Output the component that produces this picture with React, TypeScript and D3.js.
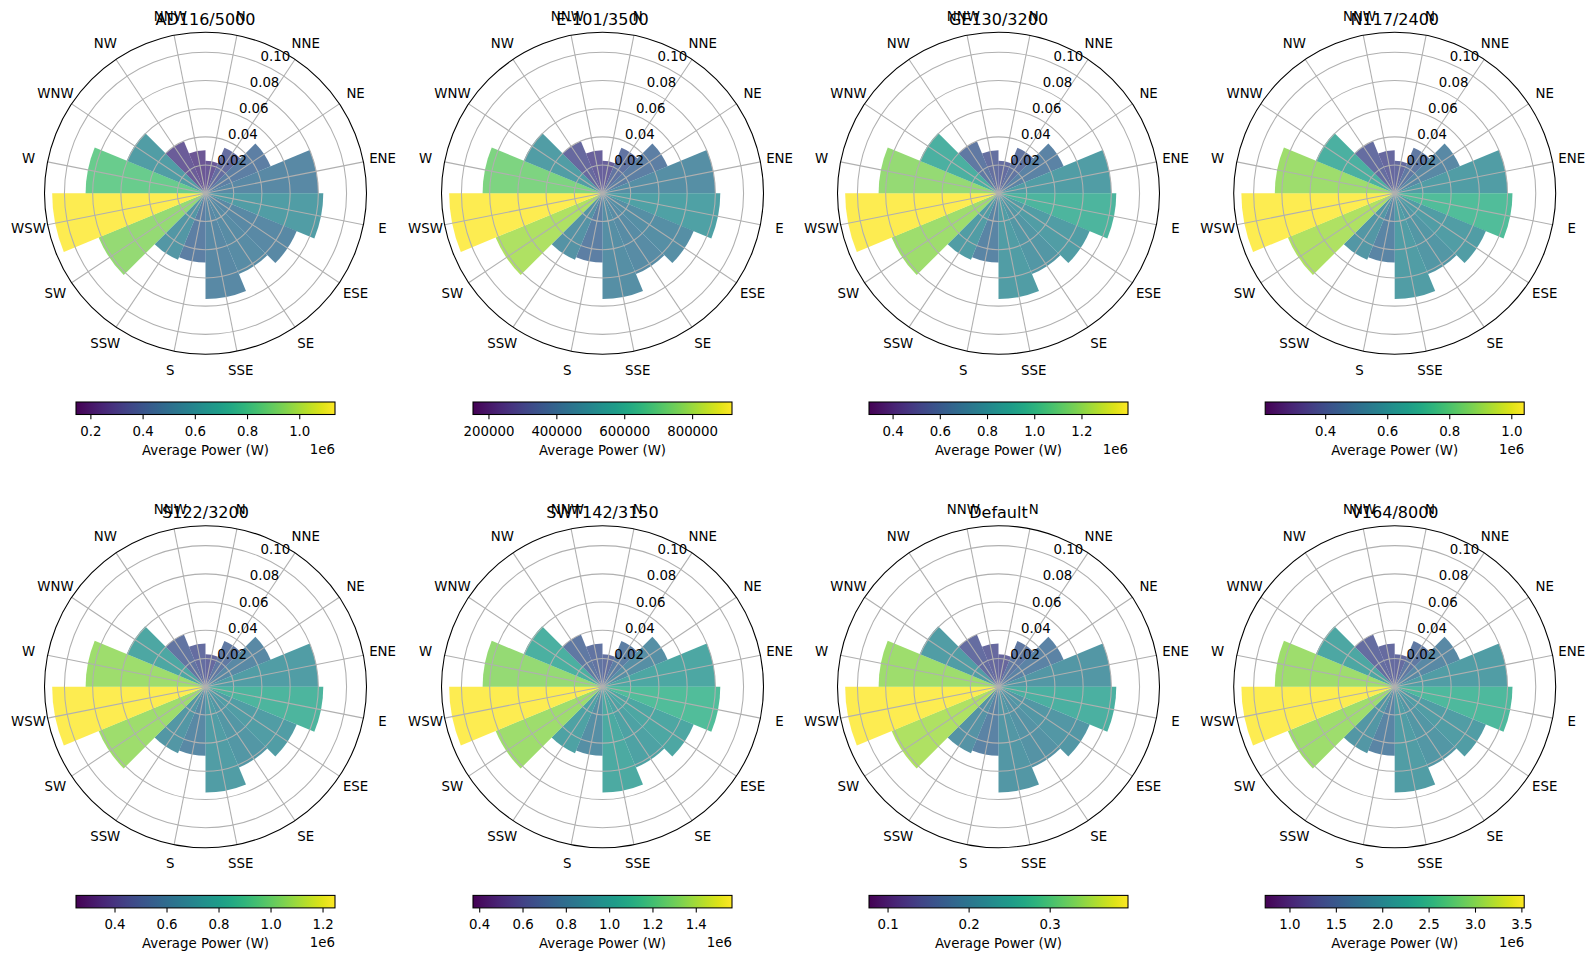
import React from 'react';
import * as d3 from 'd3';

// 16 compass sectors, shared wind rose frequencies
const DIRS = ['N', 'NNE', 'NE', 'ENE', 'E', 'ESE', 'SE', 'SSE', 'S', 'SSW', 'SW', 'WSW', 'W', 'WNW', 'NW', 'NNW'];
const FREQ = [0.023, 0.035, 0.050, 0.080, 0.0835, 0.070, 0.062, 0.075, 0.049, 0.051, 0.082, 0.1087, 0.085, 0.0605, 0.040, 0.0306];

const TURBINES = ['AD116/5000', 'E-101/3500', 'GE130/3200', 'N117/2400', 'S122/3200', 'SWT142/3150', 'Default', 'V164/8000'];

// average power per sector (W)
const POWER_AD116 = [159000, 250000, 341000, 397000, 511000, 397000, 409000, 397000, 341000, 477000, 908000, 1135000, 795000, 511000, 170000, 143000];
const POWER_E101 = [156000, 229000, 275000, 348000, 431000, 348000, 330000, 348000, 275000, 366000, 779000, 916000, 687000, 412000, 183000, 153000];
const POWER_GE130 = [298000, 349000, 446000, 628000, 809000, 628000, 586000, 628000, 460000, 628000, 1144000, 1395000, 1116000, 767000, 377000, 321000];
const POWER_N117 = [218000, 281000, 364000, 468000, 645000, 468000, 437000, 468000, 343000, 437000, 884000, 1040000, 853000, 572000, 229000, 205000];
const POWER_S122 = [250000, 336000, 436000, 561000, 723000, 561000, 523000, 561000, 436000, 523000, 1022000, 1246000, 1022000, 623000, 312000, 274000];
const POWER_SWT142 = [369000, 470000, 595000, 783000, 970000, 783000, 751000, 814000, 595000, 751000, 1283000, 1565000, 1252000, 861000, 423000, 391000];
const POWER_DEFAULT = [0.0765, 0.1069, 0.1267, 0.1663, 0.2178, 0.1663, 0.1584, 0.1663, 0.1267, 0.1584, 0.3366, 0.396, 0.3247, 0.1782, 0.0871, 0.0792];
const POWER_V164 = [733000, 952000, 1234000, 1586000, 2115000, 1586000, 1481000, 1586000, 1163000, 1481000, 2891000, 3525000, 2891000, 1763000, 776000, 740000];

const POWERS = [POWER_AD116, POWER_E101, POWER_GE130, POWER_N117, POWER_S122, POWER_SWT142, POWER_DEFAULT, POWER_V164];

// colorbar ticks
const CB_TICKS = [
  [0.2e6, 0.4e6, 0.6e6, 0.8e6, 1.0e6],
  [200000, 400000, 600000, 800000],
  [0.4e6, 0.6e6, 0.8e6, 1.0e6, 1.2e6],
  [0.4e6, 0.6e6, 0.8e6, 1.0e6],
  [0.4e6, 0.6e6, 0.8e6, 1.0e6, 1.2e6],
  [0.4e6, 0.6e6, 0.8e6, 1.0e6, 1.2e6, 1.4e6],
  [0.1, 0.2, 0.3],
  [1.0e6, 1.5e6, 2.0e6, 2.5e6, 3.0e6, 3.5e6],
];
const CB_LABELS = [
  ['0.2', '0.4', '0.6', '0.8', '1.0'],
  ['200000', '400000', '600000', '800000'],
  ['0.4', '0.6', '0.8', '1.0', '1.2'],
  ['0.4', '0.6', '0.8', '1.0'],
  ['0.4', '0.6', '0.8', '1.0', '1.2'],
  ['0.4', '0.6', '0.8', '1.0', '1.2', '1.4'],
  ['0.1', '0.2', '0.3'],
  ['1.0', '1.5', '2.0', '2.5', '3.0', '3.5'],
];
const CB_OFFSET = ['1e6', '', '1e6', '1e6', '1e6', '1e6', '', '1e6'];
const R_TICKS = [0.02, 0.04, 0.06, 0.08, 0.10];

const FONT = 'DejaVu Sans, sans-serif';
const COL_X = [205.5, 602.5, 998.5, 1394.7];
const ROW_Y = [193.3, 686.7];
const R = 161;
const CB_W = 259;
const CB_H = 12.5;

function Panel({ idx }: { idx: number }) {
  const cx = COL_X[idx % 4];
  const cy = ROW_Y[Math.floor(idx / 4)];
  const power = POWERS[idx];
  const rMax = (d3.max(FREQ) as number) * 1.05;
  const r = d3.scaleLinear().domain([0, rMax]).range([0, R]);
  const ext = d3.extent(power) as [number, number];
  // bars are coloured by power relative to the sector maximum
  const barColor = d3.scaleSequential(d3.interpolateViridis).domain([0, ext[1]]);
  const step = (2 * Math.PI) / DIRS.length;
  const arc = d3.arc<number>()
    .innerRadius(0)
    .outerRadius((d) => r(d))
    .startAngle((_, i) => i * step)
    .endAngle((_, i) => (i + 1) * step);

  const cbX0 = cx - CB_W / 2;
  const cbY0 = cy + 208.7;
  const cb = d3.scaleLinear().domain(ext).range([cbX0, cbX0 + CB_W]);
  const gid = `vir${idx}`;
  const stops = d3.range(0, 1.0001, 0.05);

  const labelR = R + 19.5;
  const rlabAng = (22.5 * Math.PI) / 180;

  return (
    <g>
      <g transform={`translate(${cx},${cy})`}>
        {FREQ.map((f, i) => (
          <path key={i} d={(arc as any)(f, i)} fill={barColor(power[i])} fillOpacity={0.8} />
        ))}
        {R_TICKS.map((t) => (
          <circle key={t} r={r(t)} fill="none" stroke="#b0b0b0" strokeWidth={1.07} />
        ))}
        {DIRS.map((_, i) => {
          const a = (i + 0.5) * step;
          return (
            <line key={i} x1={0} y1={0} x2={R * Math.sin(a)} y2={-R * Math.cos(a)} stroke="#b0b0b0" strokeWidth={1.07} />
          );
        })}
        <circle r={R} fill="none" stroke="#000" strokeWidth={1.07} />
        {R_TICKS.map((t) => (
          <text key={t} x={r(t) * Math.sin(rlabAng) + 1} y={-r(t) * Math.cos(rlabAng) - 2}
            fontSize={13.33} fontFamily={FONT} textAnchor="start">{t.toFixed(2)}</text>
        ))}
        {DIRS.map((d, i) => {
          const a = (i + 0.5) * step;
          return (
            <text key={d} x={labelR * Math.sin(a)} y={-labelR * Math.cos(a)} fontSize={13.33} fontFamily={FONT}
              textAnchor="middle" dominantBaseline="central">{d}</text>
          );
        })}
        <text x={0} y={-168.8} fontSize={16} fontFamily={FONT} textAnchor="middle">{TURBINES[idx]}</text>
      </g>
      <defs>
        <linearGradient id={gid} x1="0" x2="1" y1="0" y2="0">
          {stops.map((s) => (
            <stop key={s} offset={`${s * 100}%`} stopColor={d3.interpolateViridis(s)} />
          ))}
        </linearGradient>
      </defs>
      <rect x={cbX0} y={cbY0} width={CB_W} height={CB_H} fill={`url(#${gid})`} stroke="#000" strokeWidth={1.07} />
      {CB_TICKS[idx].map((t, j) => (
        <g key={t}>
          <line x1={cb(t)} x2={cb(t)} y1={cbY0 + CB_H} y2={cbY0 + CB_H + 4.7} stroke="#000" strokeWidth={1.07} />
          <text x={cb(t)} y={cbY0 + CB_H + 21.5} fontSize={13.33} fontFamily={FONT} textAnchor="middle">{CB_LABELS[idx][j]}</text>
        </g>
      ))}
      <text x={cx} y={cbY0 + CB_H + 40} fontSize={13.33} fontFamily={FONT} textAnchor="middle">Average Power (W)</text>
      {CB_OFFSET[idx] && (
        <text x={cbX0 + CB_W} y={cbY0 + CB_H + 39} fontSize={13.33} fontFamily={FONT} textAnchor="end">{CB_OFFSET[idx]}</text>
      )}
    </g>
  );
}

export default function App() {
  return (
    <svg width={1595} height={960} style={{ position: 'absolute', left: 0, top: 0, background: '#fff' }}>
      <rect width={1595} height={960} fill="#fff" />
      {TURBINES.map((_, i) => (
        <Panel key={i} idx={i} />
      ))}
    </svg>
  );
}
